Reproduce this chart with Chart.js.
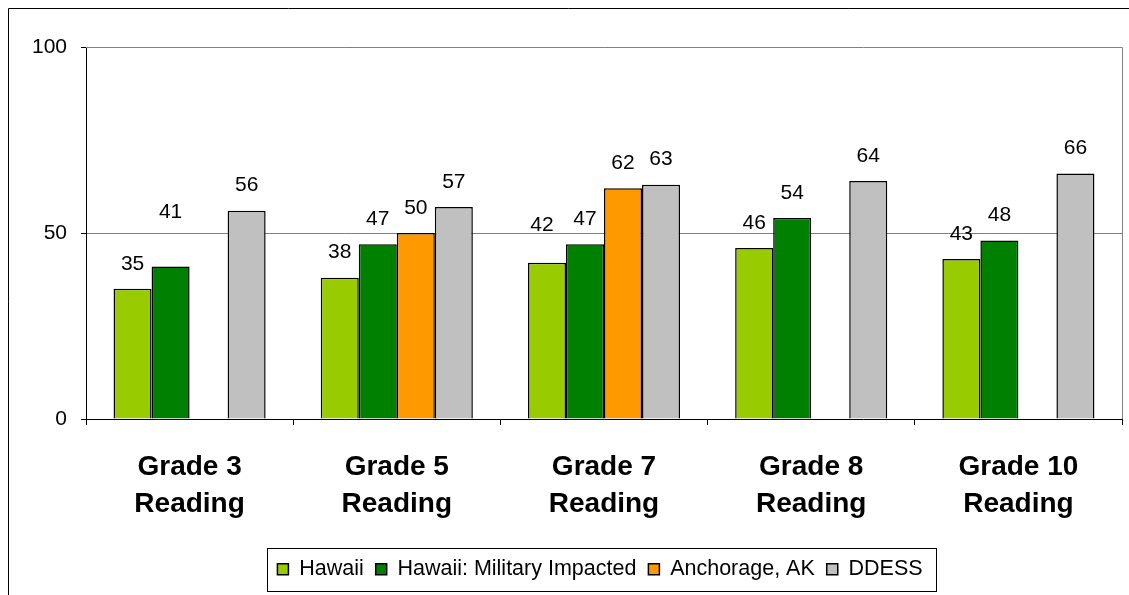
<!DOCTYPE html>
<html>
<head>
<meta charset="utf-8">
<script src="https://cdn.jsdelivr.net/npm/chart.js@4"></script>
<style>
  html, body { margin: 0; padding: 0; background: #fff; }
  #wrap { position: relative; width: 1129px; height: 595px; }
</style>
</head>
<body>
<div id="wrap"><canvas id="c" width="1129" height="595"></canvas></div>
<script>
const categories = [["Grade 3", "Reading"], ["Grade 5", "Reading"], ["Grade 7", "Reading"], ["Grade 8", "Reading"], ["Grade 10", "Reading"]];
const seriesNames = ["Hawaii", "Hawaii: Military Impacted", "Anchorage, AK", "DDESS"];
const hawaii = [35, 38, 42, 46, 43];
const hawaiiMilitary = [41, 47, 47, 54, 48];
const anchorage = [null, 50, 62, null, null];
const ddess = [56, 57, 63, 64, 66];
const yTicks = [0, 50, 100];

const colors = ["#99CC00", "#008000", "#FF9900", "#C0C0C0"];
const FONT = "'Liberation Sans', Arial, sans-serif";
const PAD_BOTTOM = 5;
const AREA_BOTTOM = 419;
const LEGEND_SHIFT = 39;
// label placement quirks of the original (dataset index, category index) -> pixel nudge
const labelNudge = { "1,0": { dx: 0, dy: -29 }, "0,2": { dx: -5, dy: -13 } };

const frame = {
  id: 'frame',
  beforeDraw(chart) {
    const lg = chart.legend;
    if (lg) { lg.left += LEGEND_SHIFT; lg.right += LEGEND_SHIFT; }
  },
  beforeDatasetsDraw(chart) {
    const ctx = chart.ctx, a = chart.chartArea;
    ctx.save();
    ctx.strokeStyle = '#808080';
    ctx.lineWidth = 1;
    ctx.beginPath();
    ctx.moveTo(a.left, Math.round(a.top) + 0.5);
    ctx.lineTo(Math.round(a.right) + 0.5, Math.round(a.top) + 0.5);
    ctx.lineTo(Math.round(a.right) + 0.5, a.bottom);
    ctx.stroke();
    ctx.restore();
  },
  afterDraw(chart) {
    const ctx = chart.ctx;
    ctx.save();
    ctx.strokeStyle = '#000';
    ctx.lineWidth = 1;
    ctx.beginPath();
    ctx.moveTo(8.5, 595);
    ctx.lineTo(8.5, 8.5);
    ctx.lineTo(1129, 8.5);
    ctx.stroke();
    const lg = chart.legend;
    if (lg && lg.legendHitBoxes && lg.legendHitBoxes.length) {
      const hb = lg.legendHitBoxes;
      let l = Infinity, r = -Infinity, t = Infinity, b = -Infinity;
      hb.forEach(h => { l = Math.min(l, h.left); r = Math.max(r, h.left + h.width); t = Math.min(t, h.top); b = Math.max(b, h.top + h.height); });
      l += LEGEND_SHIFT; r += LEGEND_SHIFT;
      ctx.strokeStyle = '#000';
      ctx.strokeRect(Math.round(l - 10) + 0.5, Math.round(t - 11) + 0.5, Math.round(r - l + 24), Math.round(b - t + 21));
    }
    ctx.restore();
  },
  afterDatasetsDraw(chart) {
    const ctx = chart.ctx;
    ctx.save();
    ctx.font = '21px ' + FONT;
    ctx.fillStyle = '#000';
    ctx.textAlign = 'center';
    ctx.textBaseline = 'middle';
    chart.data.datasets.forEach((ds, i) => {
      const meta = chart.getDatasetMeta(i);
      meta.data.forEach((el, j) => {
        const v = ds.data[j];
        if (v === null || v === undefined) return;
        const n = labelNudge[i + ',' + j] || { dx: 0, dy: 0 };
        ctx.fillText(String(v), el.x + n.dx, el.y - 25 + n.dy);
      });
    });
    ctx.restore();
  }
};

new Chart(document.getElementById('c'), {
  type: 'bar',
  data: {
    labels: categories,
    datasets: [hawaii, hawaiiMilitary, anchorage, ddess].map((d, i) => ({
      label: seriesNames[i],
      data: d,
      backgroundColor: colors[i],
      borderColor: '#000',
      borderWidth: 1.5,
      barPercentage: 1,
      categoryPercentage: 0.734
    }))
  },
  options: {
    responsive: false,
    animation: false,
    events: [],
    layout: { padding: { left: 0, right: 7, top: 47, bottom: PAD_BOTTOM } },
    plugins: {
      tooltip: { enabled: false },
      legend: {
        position: 'bottom',
        labels: {
          boxWidth: 11,
          boxHeight: 11,
          padding: 12,
          color: '#000',
          font: { family: FONT, size: 21.5 }
        }
      }
    },
    scales: {
      x: {
        afterFit(s) { s.height = 595 - PAD_BOTTOM - s.chart.legend.height - AREA_BOTTOM; },
        grid: { offset: true, drawOnChartArea: false, drawTicks: true, tickLength: 6, color: '#000', tickColor: '#000' },
        border: { color: '#000', width: 1 },
        ticks: {
          color: '#000',
          padding: 24,
          maxRotation: 0,
          autoSkip: false,
          font: { family: FONT, size: 28, weight: 'bold', lineHeight: '37px' }
        }
      },
      y: {
        min: 0,
        max: 100,
        afterFit(s) { s.width = 86; },
        afterBuildTicks(s) { s.ticks = yTicks.map(v => ({ value: v })); },
        grid: {
          drawTicks: true,
          tickLength: 5,
          tickColor: '#000',
          color: ctx => (ctx.tick && ctx.tick.value === 50) ? '#808080' : 'rgba(0,0,0,0)'
        },
        border: { color: '#000', width: 1 },
        ticks: {
          color: '#000',
          padding: 14,
          font: { family: FONT, size: 21 }
        }
      }
    }
  },
  plugins: [frame]
});
</script>
</body>
</html>
